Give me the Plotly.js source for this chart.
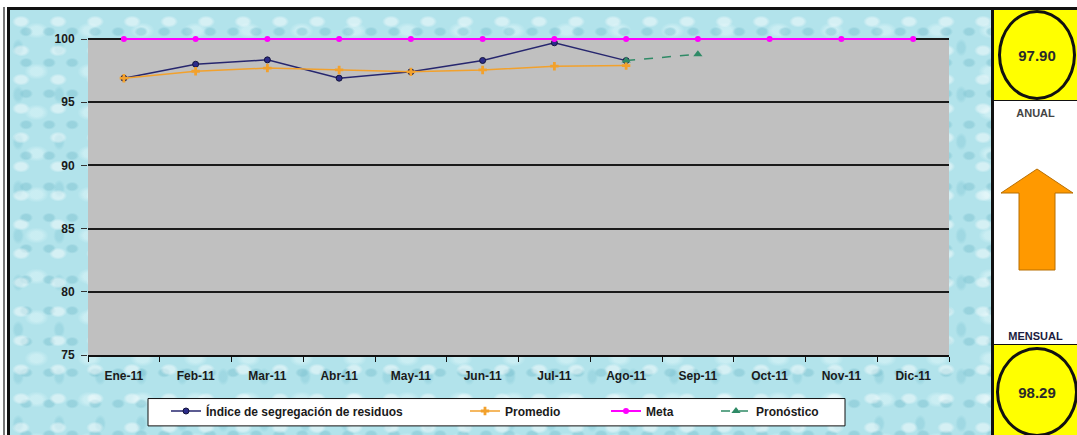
<!DOCTYPE html>
<html>
<head>
<meta charset="utf-8">
<script src="https://cdn.plot.ly/plotly-3.0.1.min.js"></script>
<style>
  html, body { margin: 0; padding: 0; background: #ffffff; }
  #wrap { position: relative; width: 1077px; height: 435px; overflow: hidden; background: #ffffff; font-family: "Liberation Sans", Arial, sans-serif; }
  #texture {
    position: absolute; left: 10px; top: 10px; width: 983px; height: 425px;
    background-color: #b2e3eb;
    background-image:
      radial-gradient(ellipse 9px 6px at 30% 40%, rgba(255,255,255,0.45) 0 60%, rgba(255,255,255,0) 100%),
      radial-gradient(ellipse 7px 5px at 70% 70%, rgba(120,190,205,0.45) 0 60%, rgba(120,190,205,0) 100%),
      radial-gradient(ellipse 12px 8px at 50% 50%, rgba(225,248,250,0.5) 0 50%, rgba(225,248,250,0) 100%),
      radial-gradient(ellipse 6px 9px at 20% 80%, rgba(140,205,218,0.5) 0 55%, rgba(140,205,218,0) 100%);
    background-size: 37px 29px, 23px 31px, 53px 41px, 41px 47px;
  }
  #frameTop { position: absolute; left: 7px; top: 7px; width: 1070px; height: 3px; background: #111; }
  #frameL1 { position: absolute; left: 3px; top: 7px; width: 2px; height: 428px; background: #777; }
  #frameL2 { position: absolute; left: 7px; top: 7px; width: 3px; height: 428px; background: #111; }
  #chart { position: absolute; left: 0; top: 0; width: 1077px; height: 435px; }
  #panel { position: absolute; left: 991px; top: 10px; width: 86px; height: 425px; background: #ffffff; border-left: 3px solid #111; box-sizing: border-box; }
  .ybox { position: absolute; left: 0; width: 83px; background: #ffff00; }
  .circ { position: absolute; border: 3px solid #111; border-radius: 50%; background: #ffff00; box-sizing: border-box;
          display: flex; align-items: center; justify-content: center; font-weight: bold; font-size: 15px; color: #2a2a2a; }
  .lbl { position: absolute; left: 0; width: 83px; text-align: center; font-weight: bold; font-size: 11px; }
</style>
</head>
<body>
<div id="wrap">
  <div id="texture"></div>
  <div id="frameL1"></div>
  <div id="frameL2"></div>
  <div id="chart"></div>
  <div id="panel">
    <div class="ybox" style="top:0; height:90px; border-bottom:1px solid #111;">
      <div class="circ" id="anualVal" style="left:4px; top:0px; width:78px; height:90px;"></div>
    </div>
    <div class="lbl" style="top:97px; color:#444;">ANUAL</div>
    <svg style="position:absolute; left:0; top:150px;" width="83" height="125">
      <polygon points="43,9 7,33 25,33 25,110 61,110 61,33 79,33" fill="#ff9900" stroke="#b86e00" stroke-width="1"/>
    </svg>
    <div class="lbl" style="top:320px; color:#1c1c40;">MENSUAL</div>
    <div class="ybox" style="top:334px; height:91px; border-top:1px solid #111;">
      <div class="circ" id="mensualVal" style="left:2px; top:2px; width:82px; height:90px;"></div>
    </div>
  </div>
  <div id="frameTop"></div>
</div>
<script>
const months = ["Ene-11","Feb-11","Mar-11","Abr-11","May-11","Jun-11","Jul-11","Ago-11","Sep-11","Oct-11","Nov-11","Dic-11"];
const indiceMonths = ["Ene-11","Feb-11","Mar-11","Abr-11","May-11","Jun-11","Jul-11","Ago-11"];
const indiceValues = [96.9, 98.0, 98.35, 96.9, 97.4, 98.3, 99.7, 98.29];
const promedioValues = [96.9, 97.45, 97.7, 97.55, 97.4, 97.55, 97.85, 97.9];
const metaValues = [100, 100, 100, 100, 100, 100, 100, 100, 100, 100, 100, 100];
const pronosticoMonths = ["Ago-11","Sep-11"];
const pronosticoValues = [98.29, 98.8];
const anual = 97.90;
const mensual = 98.29;
const yTicks = [75, 80, 85, 90, 95, 100];

document.getElementById("anualVal").textContent = anual.toFixed(2);
document.getElementById("mensualVal").textContent = mensual.toFixed(2);

// plot area in pixels (for decorations only)
const PL = 88, PR = 949, PT = 39, PB = 355;
const px2x = p => (p - PL) / (PR - PL);
const px2y = p => (PB - p) / (PB - PT);

const traces = [
  { name: "Índice de segregación de residuos", legend: "legend", x: indiceMonths, y: indiceValues, type: "scatter", mode: "lines+markers",
    line: { color: "#26266e", width: 1.5 }, marker: { symbol: "circle", size: 6, color: "#2c2c8a", line: { color: "#14143c", width: 1 } }, cliponaxis: false },
  { name: "Promedio", legend: "legend2", x: indiceMonths, y: promedioValues, type: "scatter", mode: "lines+markers",
    line: { color: "#f2a12c", width: 1.5 }, marker: { symbol: "cross", size: 7, color: "#f2a12c" }, cliponaxis: false },
  { name: "Meta", legend: "legend3", x: months, y: metaValues, type: "scatter", mode: "lines+markers",
    line: { color: "#ff00ff", width: 2 }, marker: { symbol: "circle", size: 6, color: "#ff00ff" }, cliponaxis: false },
  { name: "Pronóstico", legend: "legend4", x: pronosticoMonths, y: pronosticoValues, type: "scatter", mode: "lines+markers",
    line: { color: "#2f8a66", width: 1.5, dash: "dash" }, marker: { symbol: "triangle-up", size: 8, color: "#2f8a66" }, cliponaxis: false }
];

const legFont = { size: 12, weight: "bold", color: "#1a1a1a" };
const legBase = { orientation: "h", xref: "container", yref: "container", xanchor: "left", yanchor: "middle",
  y: (435 - 411) / 435, bgcolor: "rgba(0,0,0,0)", borderwidth: 0, font: legFont, itemwidth: 30 };

const layout = {
  width: 1077, height: 435,
  margin: { l: PL, r: 1077 - PR, t: PT - 4, b: 435 - PB },
  paper_bgcolor: "rgba(0,0,0,0)",
  plot_bgcolor: "rgba(0,0,0,0)",
  font: { family: "Liberation Sans, Arial, sans-serif", size: 12, color: "#1a1a1a" },
  showlegend: true,
  legend:  Object.assign({}, legBase, { x: 166 / 1077 }),
  legend2: Object.assign({}, legBase, { x: 465 / 1077 }),
  legend3: Object.assign({}, legBase, { x: 606 / 1077 }),
  legend4: Object.assign({}, legBase, { x: 716 / 1077 }),
  shapes: [
    { type: "rect", xref: "paper", yref: "y", x0: 0, x1: 1, y0: 75, y1: 100, fillcolor: "#c0c0c0", line: { width: 0 }, layer: "below" },
    { type: "rect", xref: "paper", yref: "paper", x0: px2x(148), x1: px2x(845), y0: px2y(425), y1: px2y(398),
      fillcolor: "#ffffff", line: { color: "#111111", width: 1 }, layer: "below" }
  ],
  xaxis: {
    type: "category", categoryorder: "array", categoryarray: months, range: [-0.5, 11.5],
    showline: true, linecolor: "#111", linewidth: 2, showgrid: false, zeroline: false,
    ticks: "outside", tickson: "boundaries", ticklen: 5, tickcolor: "#111", ticklabelstandoff: 9,
    tickfont: { size: 12, weight: "bold", color: "#1a1a1a" }
  },
  yaxis: {
    range: [75, 100 + 4 * 25 / (PB - PT)], tickvals: yTicks, ticktext: yTicks.map(String),
    showline: false, zeroline: false, showgrid: true, gridcolor: "#1a1a1a", gridwidth: 2,
    ticks: "outside", ticklen: 6, tickcolor: "#333", ticklabelstandoff: 4,
    tickfont: { size: 12, weight: "bold", color: "#1a1a1a" }
  }
};

Plotly.newPlot("chart", traces, layout, { displayModeBar: false, staticPlot: true });
</script>
</body>
</html>
